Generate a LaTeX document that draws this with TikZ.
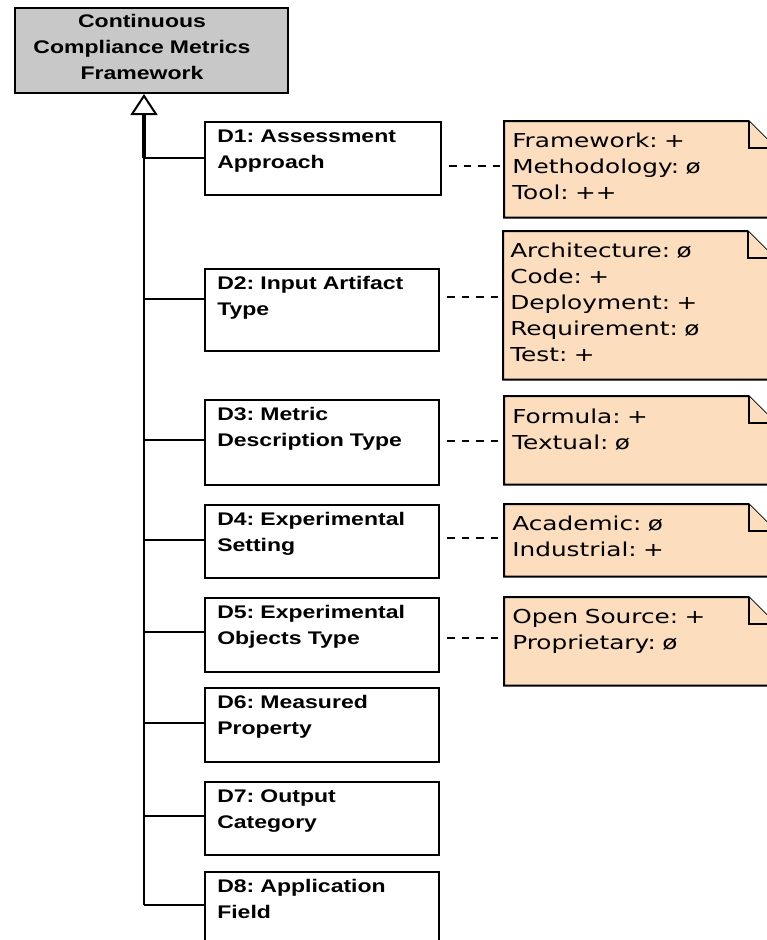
\documentclass[tikz,border=0pt]{standalone}
\usepackage{fontspec}
\usetikzlibrary{arrows.meta,calc}
\newfontfamily\dimfont[FakeStretch=1.26]{Liberation Sans}
\newfontfamily\notefont[FakeStretch=1.29]{DejaVu Sans}
\definecolor{titlegray}{RGB}{200,200,200}
\definecolor{notepeach}{RGB}{252,222,190}
\frenchspacing

% dog-eared note outline around an (invisible) area node
\newcommand\drawnote[1]{%
  \filldraw[notestyle] (#1.north west) -- ($(#1.north east)+(-27,0)$)
    -- ($(#1.north east)+(0,27)$) -- (#1.south east) -- (#1.south west) -- cycle;
  \draw[notestyle] ($(#1.north east)+(-27,0)$) |- ($(#1.north east)+(0,27)$);
}

\begin{document}
\begin{tikzpicture}[x=0.75pt,y=-0.75pt,
  titlebox/.style={draw, line width=1.5pt, fill=titlegray, anchor=north west, inner sep=0pt,
    minimum width=204.75pt, minimum height=63.75pt},
  titletext/.style={anchor=base, inner sep=0pt, text width=200pt, align=center,
    font=\dimfont\bfseries\fontsize{13.7}{19.5}\selectfont},
  dimbox/.style={draw, line width=1.5pt, fill=white, anchor=north west, inner sep=0pt,
    minimum width=175.5pt},
  dimtext/.style={anchor=base west, inner sep=0pt, text width=170pt, align=left,
    font=\dimfont\bfseries\fontsize{13.7}{19.5}\selectfont},
  notearea/.style={anchor=north west, inner sep=0pt, minimum width=203.25pt},
  notestyle/.style={draw=black, fill=notepeach, line width=1.5pt, line join=miter},
  notetext/.style={anchor=base west, inner sep=0pt, text width=190pt, align=left,
    font=\notefont\fontsize{14.4}{19.5}\selectfont},
  link/.style={line width=1.5pt},
  trunktop/.style={line width=3pt,
    -{Triangle[open, length=15.75pt, width=20.25pt, line width=1.5pt]}},
  tracelink/.style={line width=1.5pt, dash pattern=on 5.6pt off 5.3pt, dash phase=5.6pt},
]
\useasboundingbox (0,0) rectangle (767,940);

% framework box
\node[titlebox] (title) at (14,7) {};
\node[titletext] (titlelabel) at (142,27) {Continuous\\Compliance Metrics\\Framework};

% dimension boxes
\node[dimbox, minimum width=177pt, minimum height=54.75pt] (d1) at (204,121) {};
\node[dimbox, minimum height=61.5pt] (d2) at (204,268) {};
\node[dimbox, minimum height=63.75pt] (d3) at (204,399) {};
\node[dimbox, minimum height=54.75pt] (d4) at (204,504) {};
\node[dimbox, minimum height=55.5pt] (d5) at (204,597) {};
\node[dimbox, minimum height=55.5pt] (d6) at (204,687) {};
\node[dimbox, minimum height=54.75pt] (d7) at (204,781) {};
\node[dimbox, minimum height=54.75pt] (d8) at (204,871) {};

\node[dimtext] (d1t) at (217,142) {D1: Assessment\\Approach};
\node[dimtext] (d2t) at (217,289) {D2: Input Artifact\\Type};
\node[dimtext] (d3t) at (217,420) {D3: Metric\\Description Type};
\node[dimtext] (d4t) at (217,525) {D4: Experimental\\Setting};
\node[dimtext] (d5t) at (217,618) {D5: Experimental\\Objects Type};
\node[dimtext] (d6t) at (217,708) {D6: Measured\\Property};
\node[dimtext] (d7t) at (217,802) {D7: Output\\Category};
\node[dimtext] (d8t) at (217,892) {D8: Application\\Field};

% trunk and branches
\coordinate (j1) at (144,158);
\coordinate (j2) at (144,299);
\coordinate (j3) at (144,440);
\coordinate (j4) at (144,540);
\coordinate (j5) at (144,632);
\coordinate (j6) at (144,723);
\coordinate (j7) at (144,816);
\coordinate (j8) at (144,905);
\draw[link] (j1) -- (j8);
\draw[trunktop] (j1) -- (j1 |- title.south);
\foreach \k in {1,...,8} {
  \draw[link] (j\k) -- (j\k -| d\k.west);
}

% notes
\node[notearea, minimum height=72pt] (n1) at (504,121) {};
\node[notearea, minimum height=111pt] (n2) at (503,231) {};
\node[notearea, minimum height=66pt] (n3) at (504,396) {};
\node[notearea, minimum height=54pt] (n4) at (504,504) {};
\node[notearea, minimum height=66pt] (n5) at (504,597) {};
\foreach \k in {1,...,5} { \drawnote{n\k} }

\node[notetext] (n1t) at (512,147) {Framework: +\\Methodology: ø\\Tool: ++};
\node[notetext] (n2t) at (510,257) {Architecture: ø\\Code: +\\Deployment: +\\Requirement: ø\\Test: +};
\node[notetext] (n3t) at (512,423) {Formula: +\\Textual: ø};
\node[notetext] (n4t) at (512,530) {Academic: ø\\Industrial: +};
\node[notetext] (n5t) at (512,623) {Open Source: +\\Proprietary: ø};

% trace links
\draw[tracelink] (d1.east |- 0,166) -- (n1.west |- 0,166);
\draw[tracelink] (d2.east |- 0,297) -- (n2.west |- 0,297);
\draw[tracelink] (d3.east |- 0,441) -- (n3.west |- 0,441);
\draw[tracelink] (d4.east |- 0,538) -- (n4.west |- 0,538);
\draw[tracelink] (d5.east |- 0,638) -- (n5.west |- 0,638);
\end{tikzpicture}
\end{document}
